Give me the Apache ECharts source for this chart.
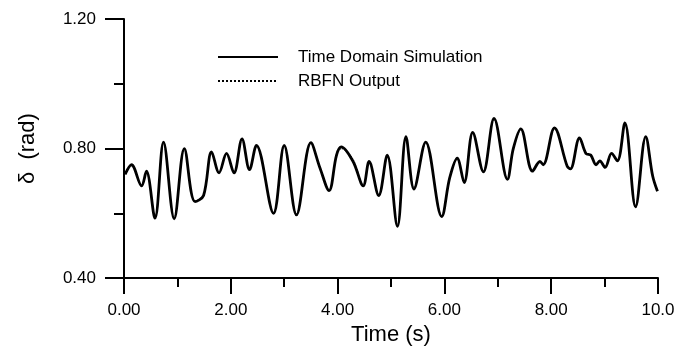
<!DOCTYPE html>
<html lang="en">
  <head>
    <meta charset="UTF-8" />
    <title>Rotor angle</title>
    <script src="https://cdn.jsdelivr.net/npm/echarts@6/dist/echarts.min.js"></script>
    <style>
      body { margin: 0; background: #fff; }
    </style>
  </head>
  <body>
    <div id="main" style="width: 684px;height:351px;"></div>
    <script type="text/javascript">
      // time (s) and delta (rad)
      var timeS = [0.02, 0.14, 0.33, 0.42, 0.58, 0.74, 0.94, 1.13, 1.33, 1.49,
        1.64, 1.78, 1.92, 2.06, 2.21, 2.35, 2.48, 2.80, 3.00, 3.23,
        3.50, 3.67, 3.84, 3.98, 4.07, 4.29, 4.48, 4.59, 4.77, 4.93,
        5.12, 5.28, 5.43, 5.65, 5.95, 6.10, 6.24, 6.37, 6.53, 6.73,
        6.93, 7.18, 7.29, 7.43, 7.65, 7.79, 7.85, 8.06, 8.30, 8.36,
        8.53, 8.65, 8.74, 8.84, 8.91, 9.01, 9.13, 9.24, 9.38, 9.58,
        9.77, 9.90, 9.99];
      var simDelta = [0.720, 0.750, 0.685, 0.730, 0.585, 0.820, 0.583, 0.800, 0.636, 0.655,
        0.790, 0.725, 0.785, 0.725, 0.830, 0.735, 0.810, 0.600, 0.810, 0.595,
        0.818, 0.740, 0.670, 0.780, 0.805, 0.760, 0.685, 0.760, 0.655, 0.780,
        0.560, 0.837, 0.675, 0.820, 0.590, 0.710, 0.770, 0.695, 0.850, 0.728,
        0.893, 0.705, 0.800, 0.861, 0.730, 0.760, 0.750, 0.864, 0.745, 0.737,
        0.833, 0.785, 0.780, 0.750, 0.762, 0.742, 0.785, 0.762, 0.879, 0.620,
        0.837, 0.715, 0.668];
      var rbfnDelta = [0.722, 0.748, 0.686, 0.728, 0.587, 0.818, 0.585, 0.798, 0.638, 0.656,
        0.788, 0.726, 0.783, 0.726, 0.828, 0.736, 0.808, 0.602, 0.808, 0.597,
        0.816, 0.742, 0.671, 0.778, 0.800, 0.765, 0.686, 0.758, 0.657, 0.778,
        0.562, 0.835, 0.677, 0.818, 0.592, 0.711, 0.768, 0.697, 0.848, 0.730,
        0.890, 0.707, 0.798, 0.859, 0.732, 0.758, 0.752, 0.861, 0.746, 0.739,
        0.831, 0.786, 0.778, 0.752, 0.760, 0.744, 0.783, 0.763, 0.876, 0.623,
        0.835, 0.717, 0.670];
      var seriesNames = ["Time Domain Simulation", "RBFN Output"];

      function pairs(xs, ys) {
        return xs.map(function (x, i) { return [x, ys[i]]; });
      }

      var myChart = echarts.init(document.getElementById("main"));
      var font = "'Liberation Sans', Arial, sans-serif";
      var option = {
        animation: false,
        backgroundColor: "#fff",
        textStyle: { fontFamily: font, color: "#000" },
        grid: { left: 124, right: 26, top: 19, bottom: 64 },
        legend: {
          orient: "vertical",
          left: 212,
          top: 43,
          itemWidth: 60,
          itemHeight: 18,
          itemGap: 6,
          data: seriesNames,
          itemStyle: { opacity: 0 },
          textStyle: { fontFamily: font, fontSize: 17, lineHeight: 18, color: "#000", padding: [0, 0, 0, 15] }
        },
        xAxis: {
          type: "value",
          min: 0,
          max: 10,
          interval: 2,
          name: "Time (s)",
          nameLocation: "middle",
          nameGap: 38,
          nameTextStyle: { fontFamily: font, fontSize: 22, color: "#000" },
          axisLine: { lineStyle: { color: "#000", width: 2 } },
          axisTick: { length: 16, lineStyle: { color: "#000", width: 2 } },
          minorTick: { show: true, splitNumber: 2, length: 9, lineStyle: { color: "#000", width: 2 } },
          splitLine: { show: false },
          axisLabel: {
            margin: 24,
            fontSize: 17,
            color: "#000",
            formatter: function (v) { return v === 10 ? "10.0" : v.toFixed(2); }
          }
        },
        yAxis: {
          type: "value",
          min: 0.4,
          max: 1.2,
          interval: 0.4,
          name: "\u03b4  (rad)",
          nameLocation: "middle",
          nameGap: 85,
          nameTextStyle: { fontFamily: font, fontSize: 22, color: "#000" },
          axisLine: { show: true, lineStyle: { color: "#000", width: 2 } },
          axisTick: { show: true, length: 19, lineStyle: { color: "#000", width: 2 } },
          minorTick: { show: true, splitNumber: 2, length: 10, lineStyle: { color: "#000", width: 2 } },
          splitLine: { show: false },
          axisLabel: {
            margin: 28,
            fontSize: 17,
            color: "#000",
            formatter: function (v) { return v.toFixed(2); }
          }
        },
        series: [
          {
            name: seriesNames[0],
            type: "line",
            smooth: 0.35,
            symbol: "none",
            data: pairs(timeS, simDelta),
            lineStyle: { color: "#000", width: 2.8 },
            itemStyle: { color: "#000" }
          },
          {
            name: seriesNames[1],
            type: "line",
            smooth: 0.35,
            symbol: "none",
            data: pairs(timeS, rbfnDelta),
            lineStyle: { color: "#000", width: 1.2, type: "dotted" },
            itemStyle: { color: "#000" }
          }
        ]
      };
      myChart.setOption(option);
    </script>
  </body>
</html>
